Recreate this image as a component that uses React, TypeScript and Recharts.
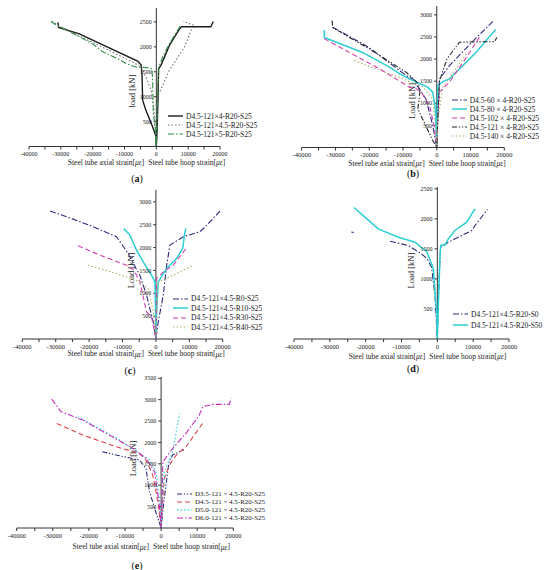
import React from 'react';
import { LineChart, Line, XAxis, YAxis, ReferenceLine, Legend } from 'recharts';

type Pt = [number, number];

const FONT = '"Liberation Serif", "DejaVu Serif", serif';

// shared x ticks (strain, με)
const xTicks = [-40000, -35000, -30000, -25000, -20000, -15000, -10000, -5000, 0, 5000, 10000, 15000, 20000];

// (a) tube thickness
const aT4: Pt[] = [[-30900, 2490], [-30700, 2390], [-24200, 2260], [-5900, 1715], [-4800, 1640], [-4500, 1460], [-4300, 930], [-3300, 730], [-1200, 400], [-100, 200], [0, 0], [200, 260], [500, 900], [700, 1560], [1450, 1630], [4100, 2030], [7000, 2330], [7900, 2405], [17100, 2405], [17900, 2510]];
const aT45: Pt[] = [[-32800, 2510], [-30500, 2420], [-25000, 2240], [-20000, 2090], [-13000, 1870], [-7000, 1680], [-4800, 1590], [-3300, 1400], [-1600, 1120], [-700, 700], [0, 0], [400, 1000], [4080, 1530], [8800, 1990], [10900, 2330], [12000, 2425], [8400, 2510]];
const aT5: Pt[] = [[-33100, 2510], [-31500, 2440], [-25000, 2230], [-20000, 2060], [-16800, 1900], [-12000, 1760], [-9500, 1665], [-6400, 1595], [-2200, 1580], [-1380, 1560], [-1160, 1330], [-950, 665], [-300, 330], [0, 0], [200, 500], [500, 1200], [800, 1600], [2000, 1800], [4000, 2050], [6000, 2260], [7800, 2450]];

// (b) tube diameter
const b60: Pt[] = [[-30800, 2720], [-20000, 2260], [-9100, 1630], [-7100, 1550], [-3200, 1100], [-1200, 500], [0, 0], [300, 700], [800, 1550], [3750, 1850], [10000, 2350], [16600, 2850]];
const b80: Pt[] = [[-33300, 2660], [-33300, 2490], [-22000, 2150], [-14000, 1820], [-11000, 1665], [-6100, 1480], [-2700, 1365], [-1200, 1250], [-400, 870], [0, 0], [300, 1400], [1800, 1490], [3750, 1550], [7700, 1850], [11600, 2150], [17400, 2666]];
const b102: Pt[] = [[-33300, 2460], [-17000, 1780], [-8100, 1365], [-6000, 1320], [-4500, 1250], [-3800, 1150], [-2000, 900], [-800, 500], [0, 0], [400, 800], [800, 1250], [3750, 1480], [8000, 1950], [12600, 2490]];
const b121: Pt[] = [[-31000, 2870], [-30800, 2710], [-20000, 2230], [-9000, 1700], [-5500, 1450], [-5000, 1250], [-5600, 870], [-3000, 450], [-1200, 160], [0, 0], [300, 600], [800, 1500], [3000, 2000], [6700, 2380], [17100, 2395], [17800, 2490]];
const b140: Pt[] = [[-24400, 1965], [-10000, 1550], [-4100, 1365], [-1200, 1100], [-300, 500], [0, 0], [300, 600], [1800, 1365], [5000, 1700], [9000, 2150]];

// (c) replacement ratio
const cR0: Pt[] = [[-31700, 2800], [-26700, 2675], [-18800, 2456], [-11800, 2237], [-8300, 1871], [-6000, 1550], [-4800, 1396], [-2800, 958], [-800, 373], [0, 0], [700, 373], [2200, 958], [3200, 1600], [4200, 2054], [8200, 2237], [13200, 2346], [16000, 2550], [19200, 2800]];
const cR10: Pt[] = [[-9600, 2420], [-7800, 2273], [-5800, 1944], [-3800, 1689], [-1300, 1396], [-300, 1250], [-100, 600], [0, 0], [200, 600], [700, 1250], [3200, 1542], [6200, 1762], [8000, 1981], [8700, 2346], [9000, 2420]];
const cR30: Pt[] = [[-23300, 2039], [-16800, 1835], [-8800, 1615], [-6500, 1500], [-4800, 1250], [-2800, 592], [-1300, 482], [0, 0], [100, 600], [200, 1323], [2200, 1469], [5200, 1615], [9200, 1996]];
const cR40: Pt[] = [[-20300, 1615], [-11800, 1433], [-4800, 1250], [-2300, 1104], [-800, 600], [0, 0], [300, 600], [700, 1250], [5200, 1396], [11200, 1615]];

// (d) fibre content
const dS0: Pt[] = [[-13200, 1628], [-8100, 1556], [-4400, 1417], [-2800, 1330], [-1600, 1194], [-650, 722], [0, 0], [300, 700], [700, 1300], [930, 1528], [3070, 1611], [6800, 1722], [9600, 1806], [10500, 1889], [14000, 2156]];
const dS0Stray: Pt[] = [[-24000, 1780], [-23300, 1774]];
const dS50: Pt[] = [[-23300, 2189], [-20200, 2028], [-16500, 1833], [-10900, 1694], [-6200, 1611], [-4400, 1520], [-3000, 1460], [-2500, 1389], [-1100, 1167], [-200, 444], [0, 0], [300, 600], [700, 1300], [930, 1556], [2140, 1567], [3070, 1667], [4900, 1806], [8200, 1944], [10500, 2167]];

// (e) bar diameter
const eD35: Pt[] = [[-16300, 1783], [-12500, 1706], [-6000, 1589], [-4200, 1394], [-3200, 849], [-1800, 460], [0, 0], [600, 500], [1500, 1100], [2200, 1550], [3200, 1706], [5500, 1800], [6300, 1830]];
const eD45: Pt[] = [[-28900, 2445], [-21700, 2173], [-12500, 1900], [-6000, 1745], [-4200, 1589], [-2300, 1238], [-900, 615], [0, 0], [400, 600], [900, 1160], [2300, 1472], [4200, 1706], [6900, 1900], [11500, 2445]];
const eD50: Pt[] = [[-23100, 2601], [-17100, 2329], [-11500, 2056], [-6900, 1783], [-3200, 1589], [-1400, 1316], [-400, 600], [0, 0], [300, 600], [900, 1316], [3200, 1783], [4200, 2250], [5100, 2679]];
const eD60: Pt[] = [[-30300, 3014], [-27700, 2718], [-21700, 2523], [-15200, 2212], [-7800, 1861], [-4200, 1628], [-1800, 1316], [-500, 537], [0, 0], [200, 500], [500, 1550], [3200, 1861], [6900, 2212], [10600, 2640], [11500, 2835], [14300, 2889], [18900, 2889], [19400, 3030]];

const yTicksA = [500, 1000, 1500, 2000, 2500];
const yTicksB = [500, 1000, 1500, 2000, 2500, 3000];
const yTicksD = [500, 1000, 1500, 2000, 2500];
const yTicksE = [500, 1000, 1500, 2000, 2500, 3000, 3500];

const NAVY = '#2d2a7c';
const CYAN = '#2ccfd4';
const MAG = '#cf3fae';
const OLIVE = '#a9ad62';
const DASHDOT = '6 2 1.5 2';
const DASHDOTDOT = '5 1.8 1.3 1.8 1.3 1.8';
const DOTTED = '1.4 2.2';
const DASHED = '5 3';

interface Series {
  name: string;
  pts: Pt[];
  color: string;
  dash?: string;
  width?: number;
  hideLegend?: boolean;
}

interface Panel {
  tag: string;
  box: { left: number; top: number; width: number; height: number };
  margin: { top: number; right: number; bottom: number; left: number };
  yMax: number;
  yTicks: number[];
  yTitle: string;
  yTitleDx: number;
  yTitleFrac: number;
  xTitleDy: number;
  tickFont: number;
  tagPos: [number, number];
  legend: { left: number; top: number; row: number; font: number };
  series: Series[];
}

const panels: Panel[] = [
  {
    tag: 'a',
    box: { left: 0, top: 0, width: 275, height: 190 },
    margin: { top: 8, right: 55, bottom: 23.5, left: 29 },
    yMax: 2780,
    yTicks: yTicksA,
    yTitle: 'load [kN]',
    yTitleDx: -23,
    yTitleFrac: 0.6,
    xTitleDy: 16.5,
    tickFont: 6,
    tagPos: [137, 178],
    legend: { left: 168, top: 111.5, row: 9, font: 7.5 },
    series: [
      { name: 'D4.5-121×4-R20-S25', pts: aT4, color: '#1b1b1b', width: 1.4 },
      { name: 'D4.5-121×4.5-R20-S25', pts: aT45, color: '#666', dash: DOTTED },
      { name: 'D4.5-121×5-R20-S25', pts: aT5, color: '#2f8f45', dash: DASHDOT },
    ],
  },
  {
    tag: 'b',
    box: { left: 275, top: 0, width: 275, height: 190 },
    margin: { top: 6, right: 45.7, bottom: 22.5, left: 26.7 },
    yMax: 3200,
    yTicks: yTicksB,
    yTitle: 'Load [kN]',
    yTitleDx: -24,
    yTitleFrac: 0.67,
    xTitleDy: 16.5,
    tickFont: 6.5,
    tagPos: [413, 173],
    legend: { left: 176.7, top: 95.5, row: 9, font: 7.5 },
    series: [
      { name: 'D4.5-60 × 4-R20-S25', pts: b60, color: NAVY, dash: DASHDOT },
      { name: 'D4.5-80 × 4-R20-S25', pts: b80, color: CYAN, width: 1.5 },
      { name: 'D4.5-102 × 4-R20-S25', pts: b102, color: MAG, dash: DASHED },
      { name: 'D4.5-121 × 4-R20-S25', pts: b121, color: '#222', dash: DASHDOTDOT },
      { name: 'D4.5-140 × 4-R20-S25', pts: b140, color: OLIVE, dash: DOTTED },
    ],
  },
  {
    tag: 'c',
    box: { left: 0, top: 185, width: 275, height: 190 },
    margin: { top: 5, right: 52.3, bottom: 16, left: 22.3 },
    yMax: 3260,
    yTicks: yTicksB,
    yTitle: 'Load [kN]',
    yTitleDx: -24,
    yTitleFrac: 0.54,
    xTitleDy: 15.5,
    tickFont: 6.5,
    tagPos: [130, 370],
    legend: { left: 173, top: 109.3, row: 9.4, font: 7.5 },
    series: [
      { name: 'D4.5-121×4.5-R0-S25', pts: cR0, color: NAVY, dash: DASHDOT },
      { name: 'D4.5-121×4.5-R10-S25', pts: cR10, color: CYAN, width: 1.5 },
      { name: 'D4.5-121×4.5-R30-S25', pts: cR30, color: MAG, dash: DASHED },
      { name: 'D4.5-121×4.5-R40-S25', pts: cR40, color: OLIVE, dash: DOTTED },
    ],
  },
  {
    tag: 'd',
    box: { left: 275, top: 185, width: 275, height: 190 },
    margin: { top: 2, right: 41, bottom: 16, left: 19 },
    yMax: 2530,
    yTicks: yTicksD,
    yTitle: 'Load [kN]',
    yTitleDx: -25.6,
    yTitleFrac: 0.55,
    xTitleDy: 18,
    tickFont: 6.5,
    tagPos: [413, 368],
    legend: { left: 178, top: 124, row: 10.7, font: 7.5 },
    series: [
      { name: 'D4.5-121×4.5-R20-S0', pts: dS0, color: NAVY, dash: DASHDOT },
      { name: 'D4.5-121×4.5-R20-S50', pts: dS50, color: CYAN, width: 1.5 },
      { name: 'S0-stray', pts: dS0Stray, color: NAVY, hideLegend: true },
    ],
  },
  {
    tag: 'e',
    box: { left: 0, top: 375, width: 275, height: 195 },
    margin: { top: 2, right: 41.7, bottom: 22, left: 16.7 },
    yMax: 3530,
    yTicks: yTicksE,
    yTitle: 'Load [kN]',
    yTitleDx: -26.7,
    yTitleFrac: 0.54,
    xTitleDy: 19.5,
    tickFont: 6.5,
    tagPos: [137, 565],
    legend: { left: 177, top: 115.4, row: 7.8, font: 7 },
    series: [
      { name: 'D3.5-121 × 4.5-R20-S25', pts: eD35, color: NAVY, dash: DASHDOTDOT },
      { name: 'D4.5-121 × 4.5-R20-S25', pts: eD45, color: '#d8434b', dash: DASHED },
      { name: 'D5.0-121 × 4.5-R20-S25', pts: eD50, color: '#3fd6da', dash: DOTTED, width: 1.3 },
      { name: 'D6.0-121 × 4.5-R20-S25', pts: eD60, color: '#c12fc0', dash: DASHDOT },
    ],
  },
];

function AxisTitles({ vb, p }: { vb: any; p: Panel }) {
  if (!vb) return null;
  const x = vb.x;
  const top = vb.y;
  const bottom = vb.y + vb.height;
  const ty = top + vb.height * p.yTitleFrac;
  const tx = x + p.yTitleDx;
  return (
    <g fontFamily={FONT} fill="#222">
      <text x={tx} y={ty} fontSize={8.5} textAnchor="middle" dominantBaseline="middle" transform={`rotate(-90 ${tx} ${ty})`}>
        {p.yTitle}
      </text>
      <text x={x - 12} y={bottom + p.xTitleDy} fontSize={7.5} textAnchor="end" dominantBaseline="middle">
        Steel tube axial strain[<tspan fontStyle="italic">με</tspan>]
      </text>
      <text x={x - 8} y={bottom + p.xTitleDy} fontSize={7.5} textAnchor="start" dominantBaseline="middle">
        Steel tube hoop strain[<tspan fontStyle="italic">με</tspan>]
      </text>
    </g>
  );
}

function StrainPanel({ p }: { p: Panel }) {
  const tickLen = 800;
  const legendRows = p.series.filter((s) => !s.hideLegend);

  // keep the series order instead of the legend's default sorting
  const renderLegend = () => (
    <div style={{ fontFamily: FONT, fontSize: p.legend.font, color: '#222' }}>
      {legendRows.map((s) => (
        <div key={s.name} style={{ display: 'flex', alignItems: 'center', height: p.legend.row, whiteSpace: 'nowrap' }}>
          <svg width={15} height={6} style={{ marginRight: 3 }}>
            <line x1={0} y1={3} x2={15} y2={3} stroke={s.color} strokeWidth={s.width ?? 1.1} strokeDasharray={s.dash} />
          </svg>
          <span>{s.name}</span>
        </div>
      ))}
    </div>
  );

  return (
    <div style={{ position: 'absolute', left: p.box.left, top: p.box.top }}>
      <LineChart width={p.box.width} height={p.box.height} margin={p.margin} style={{ fontFamily: FONT }}>
        <XAxis
          type="number"
          dataKey="x"
          domain={[-40000, 20000]}
          ticks={xTicks}
          interval={0}
          allowDataOverflow
          tickFormatter={(v: number) => (v % 10000 === 0 ? String(v) : '')}
          tick={{ fontSize: p.tickFont, fill: '#222' }}
          tickSize={3}
          height={20}
          stroke="#333"
        />
        <YAxis type="number" dataKey="y" domain={[0, p.yMax]} hide allowDataOverflow />
        <ReferenceLine x={0} stroke="#333" label={(lp: any) => <AxisTitles vb={lp.viewBox ?? lp} p={p} />} />
        {p.yTicks.map((t) => (
          <ReferenceLine
            key={`yt-${t}`}
            segment={[{ x: -tickLen, y: t }, { x: 0, y: t }]}
            stroke="#333"
            label={{ value: t, position: 'left', offset: 2, fontSize: 6, fill: '#222' }}
          />
        ))}
        {p.series.map((s) => (
          <Line
            key={s.name}
            name={s.name}
            data={s.pts.map(([x, y]) => ({ x, y }))}
            dataKey="y"
            type="linear"
            stroke={s.color}
            strokeWidth={s.width ?? 1.1}
            strokeDasharray={s.dash}
            dot={false}
            activeDot={false}
            legendType={s.hideLegend ? 'none' : 'line'}
            isAnimationActive={false}
          />
        ))}
        <Legend
          layout="vertical"
          align="center"
          verticalAlign="middle"
          wrapperStyle={{ left: p.legend.left, top: p.legend.top, width: 110 }}
          content={renderLegend}
        />
      </LineChart>
    </div>
  );
}

export default function App() {
  return (
    <div style={{ position: 'absolute', left: 0, top: 0, width: 550, height: 570, background: '#fff', fontFamily: FONT }}>
      {panels.map((p) => (
        <StrainPanel key={p.tag} p={p} />
      ))}
      {panels.map((p) => (
        <div
          key={`tag-${p.tag}`}
          style={{
            position: 'absolute',
            left: p.tagPos[0],
            top: p.tagPos[1],
            transform: 'translate(-50%, -50%)',
            fontSize: 10,
            color: '#111',
          }}
        >
          (<b>{p.tag}</b>)
        </div>
      ))}
    </div>
  );
}
